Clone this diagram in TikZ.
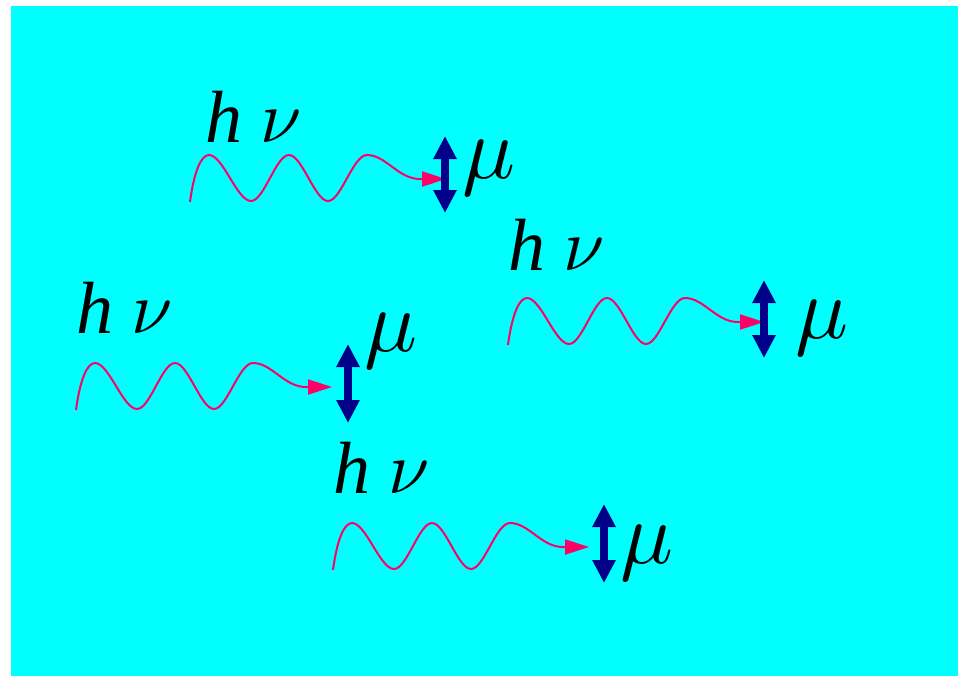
\documentclass[tikz,border=0pt]{standalone}
\usepackage{fontspec}
\setmainfont{Liberation Serif}
\usetikzlibrary{arrows.meta}
\DeclareFontFamily{OML}{cmm}{\skewchar\font'177}
\DeclareFontShape{OML}{cmm}{m}{it}{<->cmmi10}{}
\definecolor{bgcyan}{RGB}{0,255,255}
\definecolor{photonred}{RGB}{255,0,102}
\definecolor{dipoleblue}{RGB}{0,0,139}
\begin{document}
\begin{tikzpicture}[x=1pt, y=-1pt,
                wave/.style={photonred, line width=2pt, -{Triangle[length=24pt, width=15pt]}},
                dipole/.style={dipoleblue, line width=8pt, {Triangle[length=23pt, width=22pt]}-{Triangle[length=23pt, width=22pt]}},
                sym/.style={font=\fontsize{74}{80}\selectfont\itshape, anchor=base west, inner sep=0pt},
                musym/.style={font=\fontsize{88}{96}\selectfont, anchor=base west, inner sep=0pt},
                photon/.pic={
                    \draw[wave] (0,0) .. controls (4,-30) and (11,-47) .. (19,-47)
                        .. controls (33,-47) and (47,-1) .. (61,-1)
                        .. controls (74,-1) and (86,-47) .. (99,-47)
                        .. controls (112,-47) and (125,-1) .. (138,-1)
                        .. controls (151,-1) and (163,-47) .. (177,-47)
                        .. controls (196,-47) and (208,-23) .. (230,-23)
                        -- (256,-23);
                }
            ]
                \useasboundingbox (0,0) rectangle (964,678);
                \fill[bgcyan] (11,6) rectangle (958,676);

                % Photons (départ des ondes)
                \coordinate (p1) at (190,202);
                \coordinate (p2) at (76,410);
                \coordinate (p3) at (508,345);
                \coordinate (p4) at (333,570);

                \pic at (p1) {photon};
                \pic at (p2) {photon};
                \pic at (p3) {photon};
                \pic at (p4) {photon};

                % Textes h nu
                \node[sym] (hv1) at (205,142) {h $\nu$};
                \node[sym] (hv2) at (76,333) {h $\nu$};
                \node[sym] (hv3) at (508,270) {h $\nu$};
                \node[sym] (hv4) at (333,493) {h $\nu$};

                % Dipoles (doubles flèches)
                \coordinate (d1t) at (445,136);
                \coordinate (d1b) at (445,213);
                \coordinate (d2t) at (348,344);
                \coordinate (d2b) at (348,423);
                \coordinate (d3t) at (764,280);
                \coordinate (d3b) at (764,358);
                \coordinate (d4t) at (604,504);
                \coordinate (d4b) at (604,583);

                \draw[dipole] (d1t) -- (d1b);
                \draw[dipole] (d2t) -- (d2b);
                \draw[dipole] (d3t) -- (d3b);
                \draw[dipole] (d4t) -- (d4b);

                % Textes mu
                \node[musym] (mu1) at (462,178) {$\mu$};
                \node[musym] (mu2) at (364,351) {$\mu$};
                \node[musym] (mu3) at (795,338) {$\mu$};
                \node[musym] (mu4) at (620,563) {$\mu$};
            \end{tikzpicture}
\end{document}
